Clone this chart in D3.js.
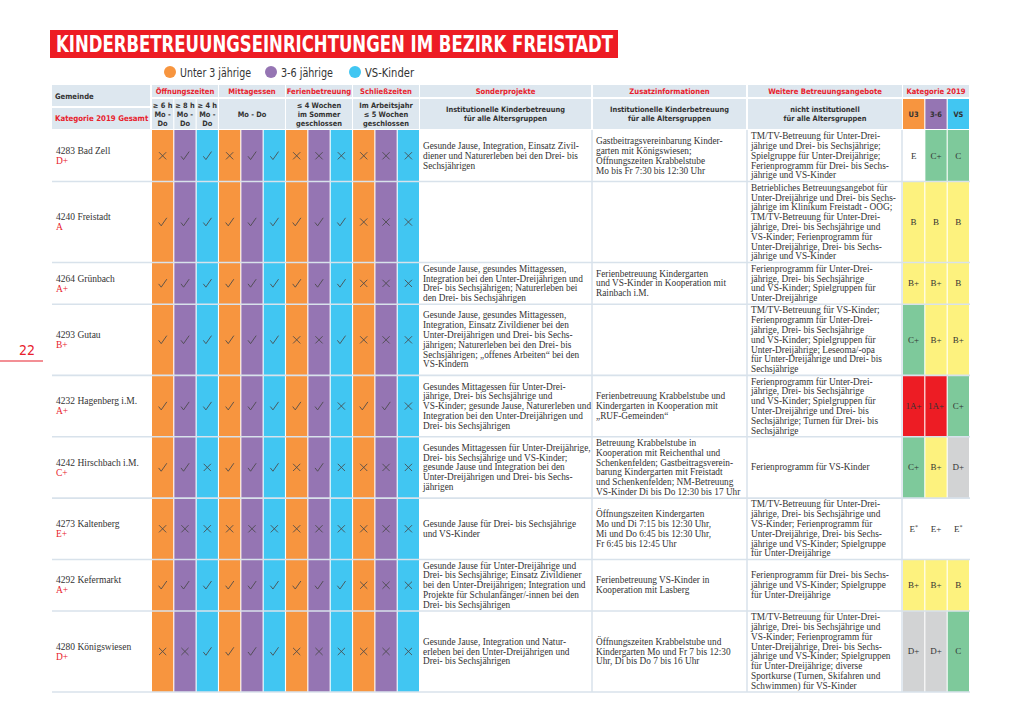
<!DOCTYPE html>
<html><head><meta charset="utf-8">
<script src="https://cdn.jsdelivr.net/npm/d3@7"></script>
<style>body{margin:0;background:#fff}svg{display:block}</style>
</head><body>
<svg id="c" width="1020" height="721"></svg>
<script>
// ---------------- DATA ----------------
const gemeinden = ["4283 Bad Zell","4240 Freistadt","4264 Grünbach","4293 Gutau","4232 Hagenberg i.M.","4242 Hirschbach i.M.","4273 Kaltenberg","4292 Kefermarkt","4280 Königswiesen"];
const gesamt = ["D+","A","A+","B+","A+","C+","E+","A+","D+"];
// 1 = check, 0 = cross ; 12 columns: Öffnungszeiten(3), Mittagessen(3), Ferienbetreuung(3), Schließzeiten(3)
const checks = [
  [0,1,1, 0,1,1, 0,0,0, 0,0,0],
  [1,1,1, 1,1,1, 1,1,1, 0,0,0],
  [1,1,1, 1,1,1, 1,1,1, 0,0,0],
  [1,1,1, 1,1,1, 0,0,1, 0,0,0],
  [1,1,1, 1,1,1, 1,1,0, 1,1,0],
  [1,1,0, 1,1,1, 0,1,0, 0,0,0],
  [0,0,0, 0,0,0, 0,0,0, 0,0,0],
  [1,1,1, 1,1,1, 1,1,1, 0,0,0],
  [0,0,1, 1,1,1, 0,0,0, 0,0,0]
];
const sonderprojekte = [
  ["Gesunde Jause, Integration, Einsatz Zivil-","diener und Naturerleben bei den Drei- bis","Sechsjährigen"],
  [],
  ["Gesunde Jause, gesundes Mittagessen,","Integration bei den Unter-Dreijährigen und","Drei- bis Sechsjährigen; Naturerleben bei","den Drei- bis Sechsjährigen"],
  ["Gesunde Jause, gesundes Mittagessen,","Integration, Einsatz Zivildiener bei den","Unter-Dreijährigen und Drei- bis Sechs-","jährigen; Naturerleben bei den Drei- bis","Sechsjährigen; „offenes Arbeiten“ bei den","VS-Kindern"],
  ["Gesundes Mittagessen für Unter-Drei-","jährige, Drei- bis Sechsjährige und","VS-Kinder; gesunde Jause, Naturerleben und","Integration bei den Unter-Dreijährigen und","Drei- bis Sechsjährigen"],
  ["Gesundes Mittagessen für Unter-Dreijährige,","Drei- bis Sechsjährige und VS-Kinder;","gesunde Jause und Integration bei den","Unter-Dreijährigen und Drei- bis Sechs-","jährigen"],
  ["Gesunde Jause für Drei- bis Sechsjährige","und VS-Kinder"],
  ["Gesunde Jause für Unter-Dreijährige und","Drei- bis Sechsjährige; Einsatz Zivildiener","bei den Unter-Dreijährigen; Integration und","Projekte für Schulanfänger/-innen bei den","Drei- bis Sechsjährigen"],
  ["Gesunde Jause, Integration und Natur-","erleben bei den Unter-Dreijährigen und","Drei- bis Sechsjährigen"]
];
const zusatzinfos = [
  ["Gastbeitragsvereinbarung Kinder-","garten mit Königswiesen;","Öffnungszeiten Krabbelstube","Mo bis Fr 7:30 bis 12:30 Uhr"],
  [],
  ["Ferienbetreuung Kindergarten","und VS-Kinder in Kooperation mit","Rainbach i.M."],
  [],
  ["Ferienbetreuung Krabbelstube und","Kindergarten in Kooperation mit","„RUF-Gemeinden“"],
  ["Betreuung Krabbelstube in","Kooperation mit Reichenthal und","Schenkenfelden; Gastbeitragsverein-","barung Kindergarten mit Freistadt","und Schenkenfelden; NM-Betreuung","VS-Kinder Di bis Do 12:30 bis 17 Uhr"],
  ["Öffnungszeiten Kindergarten","Mo und Di 7:15 bis 12:30 Uhr,","Mi und Do 6:45 bis 12:30 Uhr,","Fr 6:45 bis 12:45 Uhr"],
  ["Ferienbetreuung VS-Kinder in","Kooperation mit Lasberg"],
  ["Öffnungszeiten Krabbelstube und","Kindergarten Mo und Fr 7 bis 12:30","Uhr, Di bis Do 7 bis 16 Uhr"]
];
const weitere = [
  ["TM/TV-Betreuung für Unter-Drei-","jährige und Drei- bis Sechsjährige;","Spielgruppe für Unter-Dreijährige;","Ferienprogramm für Drei- bis Sechs-","jährige und VS-Kinder"],
  ["Betriebliches Betreuungsangebot für","Unter-Dreijährige und Drei- bis Sechs-","jährige im Klinikum Freistadt - OÖG;","TM/TV-Betreuung für Unter-Drei-","jährige, Drei- bis Sechsjährige und","VS-Kinder; Ferienprogramm für","Unter-Dreijährige, Drei- bis Sechs-","jährige und VS-Kinder"],
  ["Ferienprogramm für Unter-Drei-","jährige, Drei- bis Sechsjährige","und VS-Kinder; Spielgruppen für","Unter-Dreijährige"],
  ["TM/TV-Betreuung für VS-Kinder;","Ferienprogramm für Unter-Drei-","jährige, Drei- bis Sechsjährige","und VS-Kinder; Spielgruppen für","Unter-Dreijährige; Leseoma/-opa","für Unter-Dreijährige und Drei- bis","Sechsjährige"],
  ["Ferienprogramm für Unter-Drei-","jährige, Drei- bis Sechsjährige","und VS-Kinder; Spielgruppen für","Unter-Dreijährige und Drei- bis","Sechsjährige; Turnen für Drei- bis","Sechsjährige"],
  ["Ferienprogramm für VS-Kinder"],
  ["TM/TV-Betreuung für Unter-Drei-","jährige, Drei- bis Sechsjährige und","VS-Kinder; Ferienprogramm für","Unter-Dreijährige, Drei- bis Sechs-","jährige und VS-Kinder; Spielgruppe","für Unter-Dreijährige"],
  ["Ferienprogramm für Drei- bis Sechs-","jährige und VS-Kinder; Spielgruppe","für Unter-Dreijährige"],
  ["TM/TV-Betreuung für Unter-Drei-","jährige, Drei- bis Sechsjährige und","VS-Kinder; Ferienprogramm für","Unter-Dreijährige, Drei- bis Sechs-","jährige und VS-Kinder; Spielgruppen","für Unter-Dreijährige; diverse","Sportkurse (Turnen, Skifahren und","Schwimmen) für VS-Kinder"]
];
const katU3 = ["E","B","B+","C+","1A+","C+","E*","B+","D+"];
const kat36 = ["C+","B","B+","B+","1A+","B+","E+","B+","D+"];
const katVS = ["C","B","B","B+","C+","D+","E*","B","C"];
const katCols = ["U3","3-6","VS"];
const legendLabels = ["Unter 3 jährige","3-6 jährige","VS-Kinder"];
const groupHeaders = ["Öffnungszeiten","Mittagessen","Ferienbetreuung","Schließzeiten"];
const oeffSub = ["≥ 6 h","≥ 8 h","≥ 4 h"];
const groupSub = [null, ["Mo - Do"], ["≤ 4 Wochen","im Sommer","geschlossen"], ["Im Arbeitsjahr","≤ 5 Wochen","geschlossen"]];
const textHeaders = ["Sonderprojekte","Zusatzinformationen","Weitere Betreuungsangebote"];
const textSubs = [["Institutionelle Kinderbetreuung","für alle Altersgruppen"],["Institutionelle Kinderbetreuung","für alle Altersgruppen"],["nicht institutionell","für alle Altersgruppen"]];
const title = "KINDERBETREUUNGSEINRICHTUNGEN IM BEZIRK FREISTADT";
const pageNo = "22";

// ---------------- STYLE ----------------
const ageColors = ["#f7953f","#9575b3","#41c6f2"];
const hdrFill = "#dde7ef";
const red = "#e8212c";
const sepColor = "#d8e2eb";
const serif = "'Liberation Serif', 'Times New Roman', serif";
const cond = "'Liberation Sans Narrow', 'DejaVu Sans Condensed', sans-serif";
const gradeColor = g => g.startsWith("1A")||g.startsWith("A") ? "#ed1c24" : g.startsWith("B") ? "#fdf27e" : g.startsWith("C") ? "#7ec99b" : g.startsWith("D") ? "#d2d3d4" : "#ffffff";

const svg = d3.select("#c");
svg.append("rect").attr("width",1020).attr("height",721).attr("fill","#fff");

// title
svg.append("rect").attr("x",50).attr("y",30).attr("width",568).attr("height",28).attr("fill","#ed1c24");
svg.append("text").attr("x",56).attr("y",52).attr("font-family",cond).attr("font-weight","bold")
  .attr("font-size",23).attr("fill","#fff").attr("textLength",557).attr("lengthAdjust","spacingAndGlyphs").text(title);

// legend
const legX = [170,271,355], legW=[71,52,49];
legendLabels.forEach((l,i)=>{
  svg.append("circle").attr("cx",legX[i]).attr("cy",72).attr("r",6).attr("fill",ageColors[i]);
  svg.append("text").attr("x",legX[i]+10).attr("y",76.5).attr("font-family",cond).attr("font-size",12.5)
    .attr("fill","#333").attr("textLength",legW[i]).attr("lengthAdjust","spacingAndGlyphs").text(l);
});

// page number
svg.append("text").attr("x",27).attr("y",355).attr("text-anchor","middle").attr("font-family",cond)
  .attr("font-size",14).attr("fill",red).text(pageNo);
svg.append("line").attr("x1",0).attr("x2",43).attr("y1",361).attr("y2",361).attr("stroke",red).attr("stroke-width",1.2);

// ---------------- SCALES ----------------
const x = d3.scaleBand().domain(d3.range(12)).range([152,419]).paddingInner(0.05);
const xg = d3.scaleBand().domain(d3.range(4)).range([152,419]).paddingInner(0.015);
const xk = d3.scaleBand().domain(katCols).range([903,969]).paddingInner(0.05);
const textCols = [{x0:420,x1:591,tx:423},{x0:593,x1:746,tx:596},{x0:748,x1:902,tx:751}];

const lineH = 9.8, pad = 2.55, top0 = 130;
const nLines = gemeinden.map((g,i)=>Math.max(sonderprojekte[i].length, zusatzinfos[i].length, weitere[i].length, 2));
const rowTops = [top0];
nLines.forEach((n,i)=>rowTops.push(rowTops[i] + n*lineH + pad));
const bottom = rowTops[rowTops.length-1];
const yc = i => (rowTops[i]+rowTops[i+1])/2;

// ---------------- HEADER ----------------
const hdr = svg.append("g");
function hText(xp, yp, t, opts={}){
  return hdr.append("text").attr("x",xp).attr("y",yp).attr("dy","0.35em")
    .attr("text-anchor",opts.anchor||"middle").attr("font-family",cond).attr("font-weight","bold")
    .attr("font-size",opts.size||7.6).attr("fill",opts.fill||"#333").text(t);
}
hdr.append("rect").attr("x",52).attr("y",85).attr("width",98).attr("height",21).attr("fill",hdrFill);
hdr.append("rect").attr("x",52).attr("y",108).attr("width",98).attr("height",21).attr("fill",hdrFill);
hText(55,96,"Gemeinde",{anchor:"start",size:7.6});
hText(55,118.5,"Kategorie 2019 Gesamt",{anchor:"start",size:7.8,fill:red});

groupHeaders.forEach((g,i)=>{
  hdr.append("rect").attr("x",xg(i)).attr("y",85).attr("width",xg.bandwidth()).attr("height",12).attr("fill",hdrFill);
  hText(xg(i)+xg.bandwidth()/2,91,g,{fill:red});
  if(i===0){
    oeffSub.forEach((s,j)=>{
      hdr.append("rect").attr("x",x(j)).attr("y",99).attr("width",x.bandwidth()).attr("height",30).attr("fill",hdrFill);
      [s,"Mo -","Do"].forEach((t,k)=>hText(x(j)+x.bandwidth()/2,105.5+k*9,t,{size:7.4}));
    });
  } else {
    hdr.append("rect").attr("x",xg(i)).attr("y",99).attr("width",xg.bandwidth()).attr("height",30).attr("fill",hdrFill);
    const L = groupSub[i];
    L.forEach((t,k)=>hText(xg(i)+xg.bandwidth()/2,114-(L.length-1)*4.5+k*9,t,{size:7.4}));
  }
});
textHeaders.forEach((h,i)=>{
  const c = textCols[i];
  hdr.append("rect").attr("x",c.x0).attr("y",85).attr("width",c.x1-c.x0).attr("height",12).attr("fill",hdrFill);
  hText((c.x0+c.x1)/2,91,h,{fill:red});
  hdr.append("rect").attr("x",c.x0).attr("y",99).attr("width",c.x1-c.x0).attr("height",30).attr("fill",hdrFill);
  textSubs[i].forEach((t,k)=>hText((c.x0+c.x1)/2,109.5+k*9,t,{size:7.4}));
});
hdr.append("rect").attr("x",903).attr("y",85).attr("width",66).attr("height",12).attr("fill",hdrFill);
hText(936,91,"Kategorie 2019",{fill:red});
katCols.forEach((k,i)=>{
  hdr.append("rect").attr("x",xk(k)).attr("y",99).attr("width",xk.bandwidth()).attr("height",30).attr("fill",ageColors[i]);
  hText(xk(k)+xk.bandwidth()/2,114,k,{size:7.4});
});

// ---------------- BODY ----------------
const body = svg.append("g");
d3.range(12).forEach(j=>{
  body.append("rect").attr("x",x(j)).attr("y",top0).attr("width",x.bandwidth()).attr("height",bottom-top0).attr("fill",ageColors[j%3]);
});
const katData = [katU3,kat36,katVS];
gemeinden.forEach((g,i)=>{
  katCols.forEach((k,j)=>{
    const v = katData[j][i];
    body.append("rect").attr("x",xk(k)).attr("y",rowTops[i]).attr("width",xk.bandwidth()).attr("height",rowTops[i+1]-rowTops[i]).attr("fill",gradeColor(v));
  });
});
[592,747,902].forEach(xx=>{
  body.append("line").attr("x1",xx).attr("x2",xx).attr("y1",top0).attr("y2",bottom).attr("stroke",sepColor).attr("stroke-width",1.5);
});
rowTops.slice(1).forEach(yy=>{
  body.append("line").attr("x1",52).attr("x2",970).attr("y1",yy).attr("y2",yy).attr("stroke",sepColor).attr("stroke-width",1.6);
});

// check / cross marks
gemeinden.forEach((g,i)=>{
  checks[i].forEach((v,j)=>{
    const cx = x(j)+x.bandwidth()/2, cy = yc(i);
    if(v){
      body.append("path").attr("d",`M${cx-4},${cy+0.5} L${cx-1.4},${cy+3.8} L${cx+4.2},${cy-4.2}`)
        .attr("fill","none").attr("stroke","#484848").attr("stroke-width",0.85).attr("stroke-linejoin","round");
    } else {
      body.append("path").attr("d",`M${cx-3.6},${cy-3.6} L${cx+3.6},${cy+3.6} M${cx-3.6},${cy+3.6} L${cx+3.6},${cy-3.6}`)
        .attr("fill","none").attr("stroke","#484848").attr("stroke-width",0.85);
    }
  });
});

function block(xp, i, lines, opts={}){
  const n = lines.length;
  lines.forEach((t,k)=>{
    body.append("text").attr("x",xp).attr("y",yc(i)+(k-(n-1)/2)*lineH).attr("dy","0.33em")
      .attr("font-family",serif).attr("font-size",9.3).attr("fill",opts.fill||"#333").text(t);
  });
}
gemeinden.forEach((g,i)=>{
  body.append("text").attr("x",56).attr("y",yc(i)-5).attr("dy","0.33em").attr("font-family",serif).attr("font-size",9.5).attr("fill","#333").text(g);
  body.append("text").attr("x",56).attr("y",yc(i)+5).attr("dy","0.33em").attr("font-family",serif).attr("font-size",9.5).attr("fill",red).text(gesamt[i]);
  block(textCols[0].tx,i,sonderprojekte[i]);
  block(textCols[1].tx,i,zusatzinfos[i]);
  block(textCols[2].tx,i,weitere[i]);
  katCols.forEach((k,j)=>{
    const v = katData[j][i];
    const t = body.append("text").attr("x",xk(k)+xk.bandwidth()/2).attr("y",yc(i)).attr("dy","0.33em")
      .attr("text-anchor","middle").attr("font-family",serif).attr("font-size",9).attr("fill","#333");
    if(v.endsWith("*")){
      t.append("tspan").text(v.slice(0,-1));
      t.append("tspan").attr("font-size",6).attr("dy","-0.5em").text("*");
    } else t.text(v);
  });
});
</script>
</body></html>
